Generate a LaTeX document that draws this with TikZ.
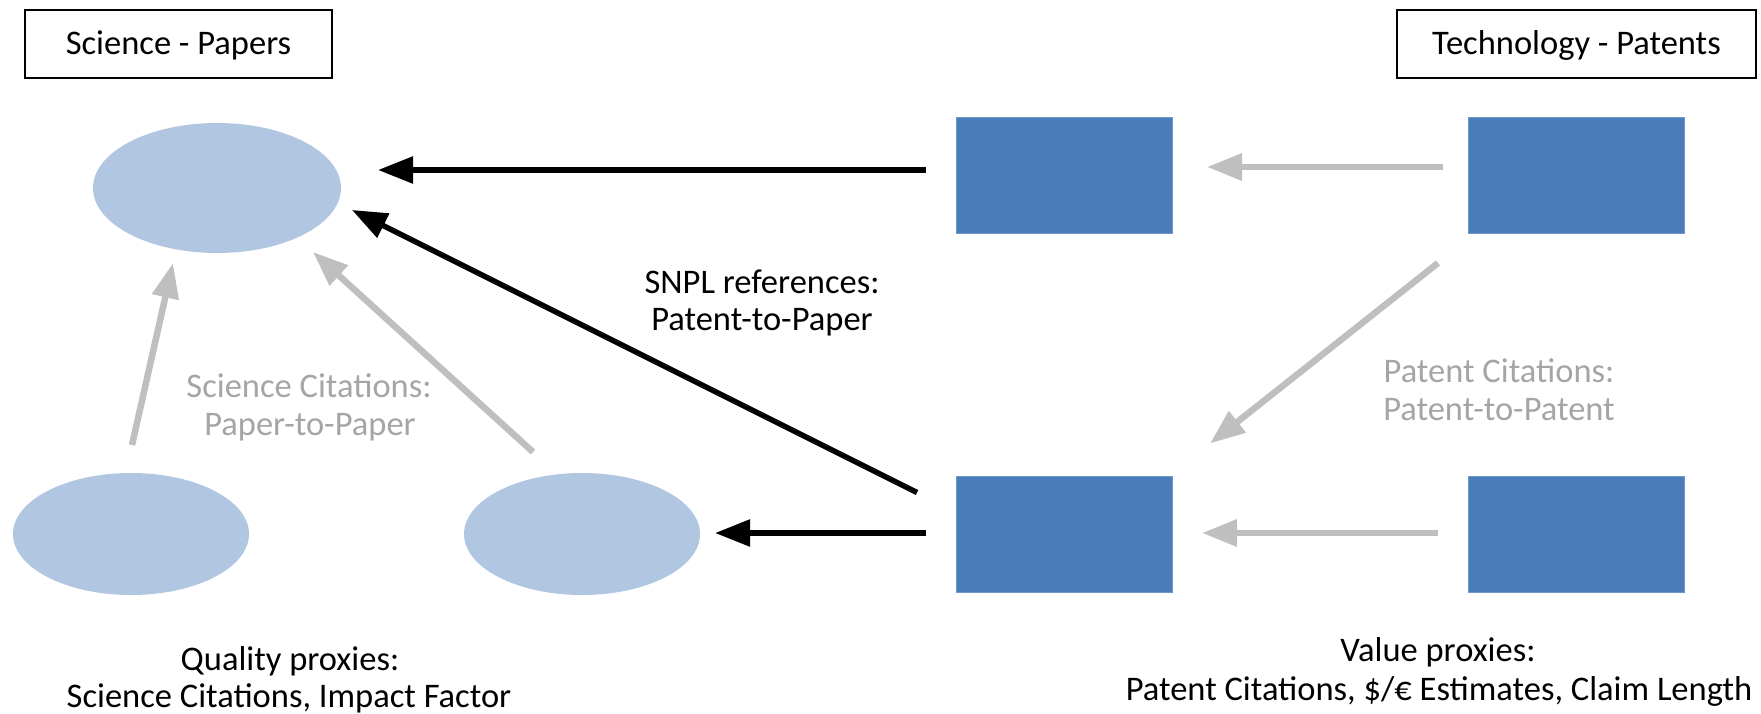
\documentclass[tikz,border=0pt]{standalone}
\usepackage{fontspec}
\setmainfont{Carlito}
\usetikzlibrary{arrows.meta,calc,shapes.geometric}
\definecolor{paperfill}{HTML}{B0C6E1}
\definecolor{patentfill}{HTML}{4A7CBB}
\definecolor{arrowgray}{HTML}{BFBFBF}
\definecolor{textgray}{HTML}{A5A5A5}
\tikzset{
  titlebox/.style={draw=black, line width=2.7pt, fill=white, minimum height=68pt, inner sep=0pt, outer sep=0pt, text height=25pt, text depth=3pt},
  paper/.style={ellipse, fill=paperfill, draw=none, inner sep=0pt, outer sep=0pt},
  patent/.style={rectangle, fill=patentfill, draw=patentfill!80!white, line width=0.8pt, minimum width=216pt, minimum height=116pt, inner sep=0pt, outer sep=0pt},
  lbl/.style={anchor=base, inner sep=0pt, outer sep=0pt},
  glbl/.style={lbl, text=textgray},
  blackarrow/.style={draw=black, line width=5.5pt, -{Triangle[length=35pt,width=26pt]}},
  grayarrow/.style={draw=arrowgray, line width=6.5pt, -{Triangle[length=35pt,width=26pt]}},
}
\begin{document}
\begin{tikzpicture}[x=1pt, y=-1pt, font=\fontsize{34.5}{37.5}\selectfont]
\useasboundingbox (0,0) rectangle (1761,714);
% title boxes
\node[titlebox, minimum width=307pt] (sci) at (178.5,44) {Science - Papers};
\node[titlebox, minimum width=359pt] (tech) at (1576.5,44) {Technology - Patents};
% papers
\node[paper, minimum width=248pt, minimum height=130pt] (e1) at (217,188) {};
\node[paper, minimum width=236pt, minimum height=122pt] (e2) at (131,534) {};
\node[paper, minimum width=236pt, minimum height=122pt] (e3) at (582,534) {};
% patents
\node[patent] (r1) at (1064,175) {};
\node[patent] (r2) at (1576,175) {};
\node[patent] (r3) at (1064,534.5) {};
\node[patent] (r4) at (1576,534.5) {};
% gray citation arrows
\draw[grayarrow] ($(r2.west)+(-25,-8)$) -- ($(r1.east)+(35,-8)$);
\draw[grayarrow] ($(r4.west)+(-30,-1.5)$) -- ($(r3.east)+(30,-1.5)$);
\draw[grayarrow] ($(r2.south west)+(-30,30)$) -- ($(r3.north east)+(38,-33)$);
\draw[grayarrow] ($(e2.north)+(1,-28)$) -- ($(e1.south)+(-44,10)$);
\draw[grayarrow] ($(e3.north)+(-49,-21)$) -- ($(e1.south)+(96,-1)$);
% black SNPL arrows
\draw[blackarrow] ($(r1.west)+(-30,-5)$) -- ($(e1.east)+(37,-18)$);
\draw[blackarrow] ($(r3.north west)+(-39,16)$) -- ($(e1.east)+(11,22)$);
\draw[blackarrow] ($(r3.west)+(-30,-1.5)$) -- ($(e3.east)+(15,-1)$);
% labels
\node[lbl] (snpl1) at (762,293) {SNPL references:};
\node[lbl] (snpl2) at (762,330) {Patent-to-Paper};
\node[glbl] (sc1) at (309,397) {Science Citations:};
\node[glbl] (sc2) at (310,435) {Paper-to-Paper};
\node[glbl] (pc1) at (1499,382) {Patent Citations:};
\node[glbl] (pc2) at (1499,420) {Patent-to-Patent};
\node[lbl] (q1) at (290,670) {Quality proxies:};
\node[lbl] (q2) at (289,707) {Science Citations, Impact Factor};
\node[lbl] (v1) at (1438,661) {Value proxies:};
\node[lbl] (v2) at (1439,700) {Patent Citations, \$/€ Estimates, Claim Length};
\end{tikzpicture}
\end{document}
